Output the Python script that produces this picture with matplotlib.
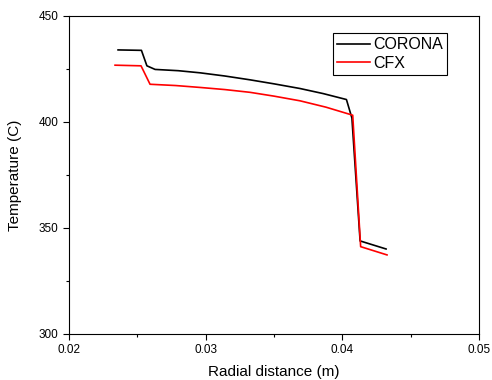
import numpy as np
import matplotlib
matplotlib.use('Agg')
import matplotlib.pyplot as plt
from matplotlib.ticker import MultipleLocator

plt.rcParams['font.family'] = ['Liberation Sans', 'DejaVu Sans']

# values
corona_x = [0.02359, 0.02530, 0.02570, 0.02630, 0.02800, 0.02959, 0.03140, 0.03324, 0.03500,
            0.03690, 0.03860, 0.04030, 0.04070, 0.04130, 0.04320]
corona_y = [434.0, 433.8, 426.5, 424.8, 424.2, 423.2, 421.7, 419.9, 418.0,
            415.8, 413.4, 410.6, 401.9, 343.9, 340.1]
cfx_x = [0.02337, 0.02527, 0.02593, 0.02780, 0.02959, 0.03140, 0.03324, 0.03500,
         0.03690, 0.03880, 0.04076, 0.04134, 0.04327]
cfx_y = [426.8, 426.5, 417.8, 417.2, 416.3, 415.3, 414.0, 412.2,
         410.0, 407.0, 403.2, 341.2, 337.3]

fig = plt.figure(figsize=(4.92, 3.8), dpi=100)
ax = fig.add_axes([69/492, 1 - 334/380, 410/492, 318/380])

ax.plot(corona_x, corona_y, color='black', lw=1.2, label='CORONA')
ax.plot(cfx_x, cfx_y, color='red', lw=1.2, label='CFX')

ax.set_xlim(0.02, 0.05)
ax.set_ylim(300, 450)
ax.xaxis.set_major_locator(MultipleLocator(0.01))
ax.xaxis.set_minor_locator(MultipleLocator(0.005))
ax.yaxis.set_major_locator(MultipleLocator(50))
ax.yaxis.set_minor_locator(MultipleLocator(25))
ax.set_xticklabels(['%.2f' % v for v in ax.get_xticks()])
ax.tick_params(which='both', direction='out', top=False, right=False, labelsize=8.5, width=0.8)
ax.tick_params(which='major', length=4)
ax.tick_params(which='minor', length=2.5)
for s in ax.spines.values():
    s.set_linewidth(0.8)

ax.set_xlabel('Radial distance (m)', fontsize=11, labelpad=6)
ax.set_ylabel('Temperature (C)', fontsize=11, labelpad=12)

leg = ax.legend(loc='upper left', bbox_to_anchor=(0.643, 0.945), fontsize=11.5, fancybox=False,
                edgecolor='black', framealpha=1, handlelength=2.1, borderpad=0.25,
                labelspacing=0.2, handletextpad=0.2, borderaxespad=0)
leg.get_frame().set_linewidth(0.8)

fig.savefig('out.png', dpi=100)
